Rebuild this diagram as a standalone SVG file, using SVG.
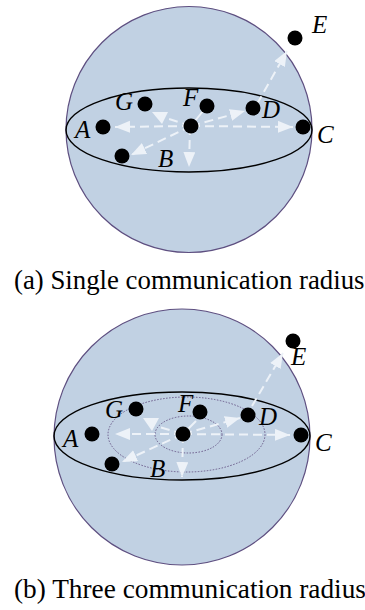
<svg xmlns="http://www.w3.org/2000/svg" width="365" height="610" viewBox="0 0 365 610">
<style>
.sphere{fill:#c1d1e3;stroke:#5e4f80;stroke-width:1.2}
.eq{fill:none;stroke:#000;stroke-width:1.4}
.dot{fill:none;stroke:#6a5a8a;stroke-width:1;stroke-dasharray:1.5 1.5}
.ar{stroke:#edf2f8;stroke-width:2;stroke-dasharray:9 5;fill:none;marker-end:url(#ah)}
.ln{stroke:#edf2f8;stroke-width:2;fill:none}
.hd{fill:#edf2f8}
.node{fill:#000}
.lbl{font-family:"Liberation Serif","Times New Roman",serif;font-style:italic;font-size:25px;fill:#000}
.cap{font-family:"Liberation Serif","Times New Roman",serif;font-size:26.8px;fill:#000}
</style>
<defs>
<marker id="ah" markerUnits="userSpaceOnUse" markerWidth="16" markerHeight="13" refX="15" refY="6" orient="auto">
<path d="M0,0 L15,6 L0,12 z" fill="#edf2f8"/>
</marker>
</defs>
<g id="diagram-a">
<circle class="sphere" cx="189" cy="129.5" r="123"/>
<ellipse class="eq" cx="189" cy="130" rx="123" ry="42"/>
</g>
<g id="diagram-b">
<circle class="sphere" cx="182" cy="437" r="128"/>
<ellipse class="eq" cx="182" cy="436" rx="128" ry="44"/>
<ellipse class="dot" cx="186.5" cy="434.5" rx="78.5" ry="37.5"/>
<ellipse class="dot" cx="188.5" cy="434.5" rx="33.5" ry="18.5"/>
</g>
<g id="connectors">
<line class="ar" x1="191" y1="126" x2="115" y2="127"/>
<line class="ar" x1="191" y1="126" x2="293" y2="127"/>
<line class="ar" x1="191" y1="126" x2="245" y2="111"/>
<line class="ar" x1="257" y1="104" x2="287" y2="51"/>
<line class="ar" x1="191" y1="126" x2="131" y2="155"/>
<line class="ar" x1="190" y1="126" x2="189" y2="167"/>
<line class="ar" x1="191" y1="126" x2="166" y2="118" style="marker-end:none"/>
<polygon class="hd" points="152,112 168,112 162,124"/>
<line class="ln" x1="191" y1="126" x2="203" y2="111"/>
<line class="ar" x1="183" y1="434" x2="115" y2="434"/>
<line class="ar" x1="183" y1="434" x2="290" y2="435"/>
<line class="ar" x1="183" y1="434" x2="240" y2="418"/>
<line class="ar" x1="252" y1="406" x2="283" y2="353"/>
<line class="ar" x1="183" y1="434" x2="122" y2="462"/>
<line class="ar" x1="183" y1="434" x2="182" y2="477"/>
<line class="ar" x1="183" y1="434" x2="159" y2="427" style="marker-end:none"/>
<polygon class="hd" points="143,418 159,418 152,431"/>
<line class="ln" x1="183" y1="434" x2="196" y2="421"/>
</g>
<g id="nodes-a">
<g id="a-A"><circle class="node" cx="103" cy="127" r="7.5"/><text class="lbl" x="75" y="138">A</text></g>
<g id="a-G"><circle class="node" cx="145" cy="104" r="7.5"/><text class="lbl" x="115" y="110">G</text></g>
<g id="a-F"><circle class="node" cx="207" cy="106" r="7.5"/><text class="lbl" x="183" y="106">F</text></g>
<g id="a-center"><circle class="node" cx="191" cy="126" r="7.5"/></g>
<g id="a-D"><circle class="node" cx="253" cy="108" r="7.5"/><text class="lbl" x="262" y="118">D</text></g>
<g id="a-C"><circle class="node" cx="303" cy="127" r="7.5"/><text class="lbl" x="317" y="143">C</text></g>
<g id="a-E"><circle class="node" cx="295" cy="38" r="7.5"/><text class="lbl" x="312" y="33">E</text></g>
<g id="a-B"><circle class="node" cx="122" cy="156" r="7.5"/><text class="lbl" x="158" y="167">B</text></g>
</g>
<g id="nodes-b">
<g id="b-A"><circle class="node" cx="92" cy="434" r="7.5"/><text class="lbl" x="63" y="447">A</text></g>
<g id="b-G"><circle class="node" cx="136" cy="409" r="7.5"/><text class="lbl" x="105" y="418">G</text></g>
<g id="b-F"><circle class="node" cx="200" cy="412" r="7.5"/><text class="lbl" x="178" y="412">F</text></g>
<g id="b-center"><circle class="node" cx="183" cy="434" r="7.5"/></g>
<g id="b-D"><circle class="node" cx="248" cy="415" r="7.5"/><text class="lbl" x="259" y="425">D</text></g>
<g id="b-C"><circle class="node" cx="301" cy="435" r="7.5"/><text class="lbl" x="315" y="451">C</text></g>
<g id="b-E"><circle class="node" cx="293" cy="341" r="7.5"/><text class="lbl" x="291" y="365">E</text></g>
<g id="b-B"><circle class="node" cx="112" cy="464" r="7.5"/><text class="lbl" x="150" y="477">B</text></g>
</g>
<text class="cap" x="14" y="289">(a) Single communication radius</text>
<text class="cap" x="14" y="598" style="font-size:27.3px">(b) Three communication radius</text>
</svg>
